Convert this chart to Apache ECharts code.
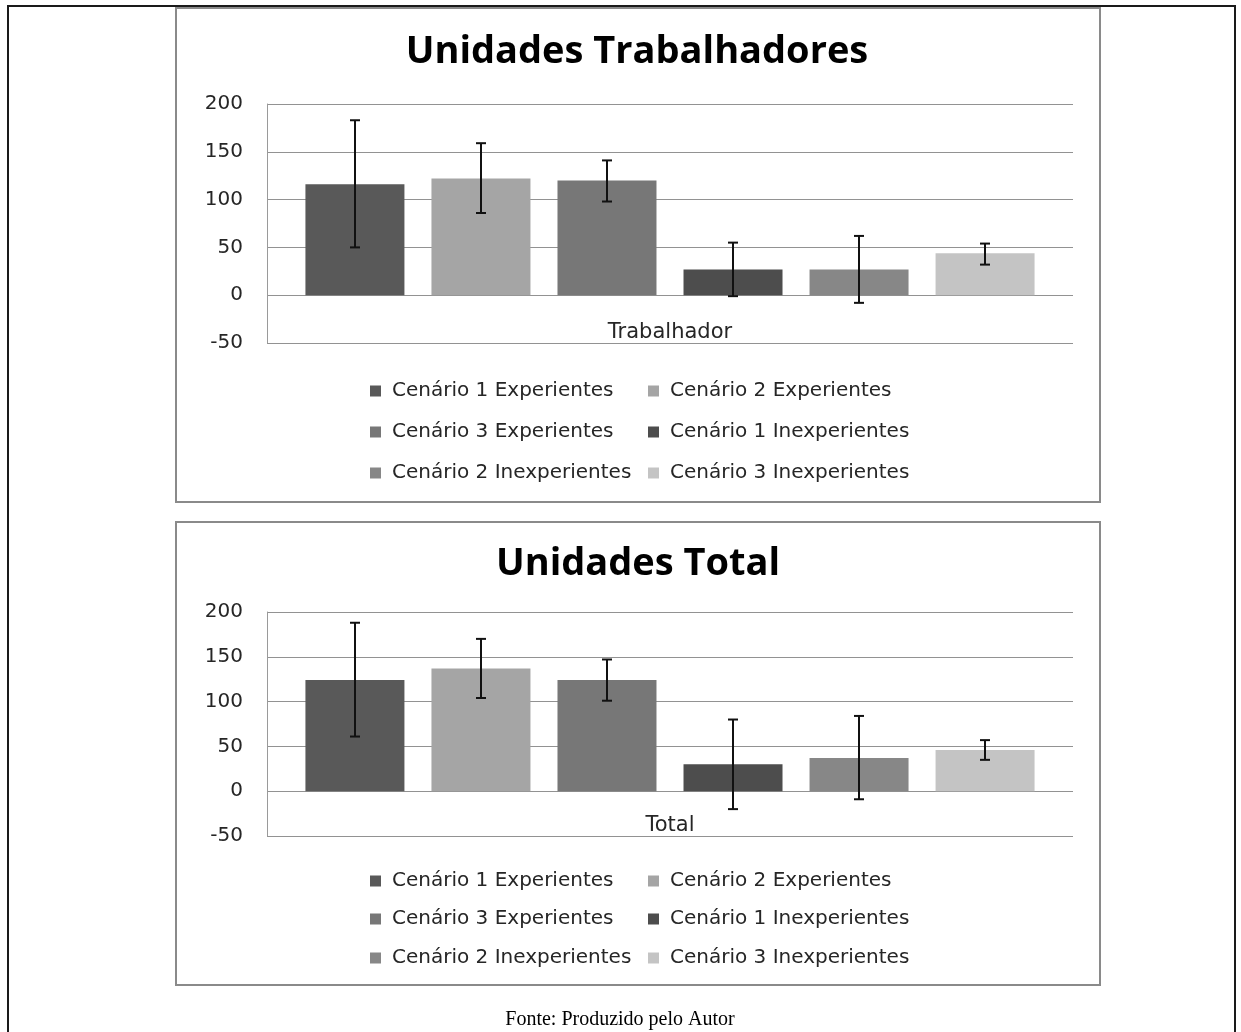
<!DOCTYPE html>
<html>
<head>
<meta charset="utf-8">
<script src="https://cdn.jsdelivr.net/npm/echarts@6/dist/echarts.min.js"></script>
<style>
html,body{margin:0;padding:0;background:#fff;}
#chart{width:1241px;height:1032px;}
</style>
</head>
<body>
<div id="chart"></div>
<script>
// ---- data ----
const topTitle = 'Unidades Trabalhadores';
const bottomTitle = 'Unidades Total';
const topCategories = ['Trabalhador'];
const bottomCategories = ['Total'];
const seriesNames = ['Cenário 1 Experientes', 'Cenário 2 Experientes', 'Cenário 3 Experientes',
                     'Cenário 1 Inexperientes', 'Cenário 2 Inexperientes', 'Cenário 3 Inexperientes'];
const trabMeans = [116, 122, 120, 27, 27, 44];
const trabLow   = [50, 86, 98, -1, -8, 32];
const trabHigh  = [183, 159, 141, 55, 62, 54];
const totalMeans = [124, 137, 124, 30, 37, 46];
const totalLow   = [61, 104, 101, -20, -9, 35];
const totalHigh  = [188, 170, 147, 80, 84, 57];
const yMin = -50, yMax = 200, yInterval = 50;
const footnote = 'Fonte: Produzido pelo Autor';

// ---- styles ----
const colors = ['#595959', '#a5a5a5', '#777777', '#4d4d4d', '#878787', '#c4c4c4'];
const FONT = 'DejaVu Sans';
const FS = 20;
const BAR_W = 99, BAR_GAP = 27 / 99;
const legendCols = [370, 648];
const topLegendRows = [389, 430, 471];
const botLegendRows = [879, 917, 956];

const chart = echarts.init(document.getElementById('chart'), null, {renderer: 'canvas'});

function gridAxes(gi, top, height, cats, labelMargin) {
  return {
    grid: {left: 267, width: 806, top: top, height: height},
    xAxis: {
      type: 'category', gridIndex: gi, data: cats,
      axisLine: {show: false, onZero: false},
      axisTick: {show: false},
      axisLabel: {margin: labelMargin, fontFamily: FONT, fontSize: 21, color: '#262626'}
    },
    yAxis: {
      type: 'value', gridIndex: gi, min: yMin, max: yMax, interval: yInterval,
      axisLine: {show: true, lineStyle: {color: '#9a9a9a', width: 1}},
      axisTick: {show: false},
      splitLine: {lineStyle: {color: '#929292', width: 1}},
      axisLabel: {margin: 24, fontFamily: FONT, fontSize: FS, color: '#262626'}
    }
  };
}

const g0 = gridAxes(0, 104, 239, topCategories, -21);
const g1 = gridAxes(1, 612, 224, bottomCategories, -21);

function barSeries(gi, means) {
  return seriesNames.map((n, i) => ({
    type: 'bar', name: n, xAxisIndex: gi, yAxisIndex: gi,
    data: [means[i]], barWidth: BAR_W, barGap: (BAR_GAP * 100).toFixed(1) + '%',
    itemStyle: {color: colors[i]}, silent: true
  }));
}

function errSeries(gi, low, high) {
  const n = seriesNames.length;
  return {
    type: 'custom', xAxisIndex: gi, yAxisIndex: gi, z: 10, silent: true,
    data: low.map((l, i) => [0, l, high[i], i]),
    renderItem: function (params, api) {
      const idx = api.value(3);
      const off = (idx - (n - 1) / 2) * BAR_W * (1 + BAR_GAP);
      const pLow = api.coord([api.value(0), api.value(1)]);
      const pHigh = api.coord([api.value(0), api.value(2)]);
      const x = pLow[0] + off;
      const cap = 5;
      const st = {stroke: '#111', lineWidth: 2};
      return {
        type: 'group',
        children: [
          {type: 'line', shape: {x1: x, y1: pLow[1], x2: x, y2: pHigh[1]}, style: st},
          {type: 'line', shape: {x1: x - cap, y1: pLow[1], x2: x + cap, y2: pLow[1]}, style: st},
          {type: 'line', shape: {x1: x - cap, y1: pHigh[1], x2: x + cap, y2: pHigh[1]}, style: st}
        ]
      };
    }
  };
}

const legends = [];
[topLegendRows, botLegendRows].forEach(rows => {
  seriesNames.forEach((n, i) => {
    const r = Math.floor(i / 2), c = i % 2;
    legends.push({
      data: [n], left: legendCols[c], top: rows[r] - 8, selectedMode: false,
      icon: 'rect', itemWidth: 11, itemHeight: 11, padding: 0,
      textStyle: {fontFamily: FONT, fontSize: FS, color: '#262626', padding: [0, 0, 0, 6]}
    });
  });
});

const option = {
  animation: false,
  backgroundColor: '#fff',
  grid: [g0.grid, g1.grid],
  xAxis: [g0.xAxis, g1.xAxis],
  yAxis: [g0.yAxis, g1.yAxis],
  legend: legends,
  series: [].concat(
    barSeries(0, trabMeans), [errSeries(0, trabLow, trabHigh)],
    barSeries(1, totalMeans), [errSeries(1, totalLow, totalHigh)]
  ),
  graphic: [
    {type: 'polyline', shape: {points: [[8, 1032], [8, 6], [1235, 6], [1235, 1032]]},
     style: {stroke: '#1a1a1a', lineWidth: 2, fill: null}, silent: true},
    {type: 'rect', shape: {x: 176, y: 8, width: 924, height: 494},
     style: {stroke: '#8a8a8a', lineWidth: 2, fill: null}, silent: true},
    {type: 'rect', shape: {x: 176, y: 522, width: 924, height: 463},
     style: {stroke: '#8a8a8a', lineWidth: 2, fill: null}, silent: true},
    {type: 'text', x: 637, y: 52, silent: true,
     style: {text: topTitle, font: 'bold 38px "Open Sans"', fill: '#000', textAlign: 'center', textVerticalAlign: 'middle'}},
    {type: 'text', x: 638, y: 564, silent: true,
     style: {text: bottomTitle, font: 'bold 38px "Open Sans"', fill: '#000', textAlign: 'center', textVerticalAlign: 'middle'}},
    {type: 'text', x: 620, y: 1020, silent: true,
     style: {text: footnote, font: '20px "Liberation Serif"', fill: '#000', textAlign: 'center', textVerticalAlign: 'middle'}}
  ]
};
chart.setOption(option);
</script>
</body>
</html>
